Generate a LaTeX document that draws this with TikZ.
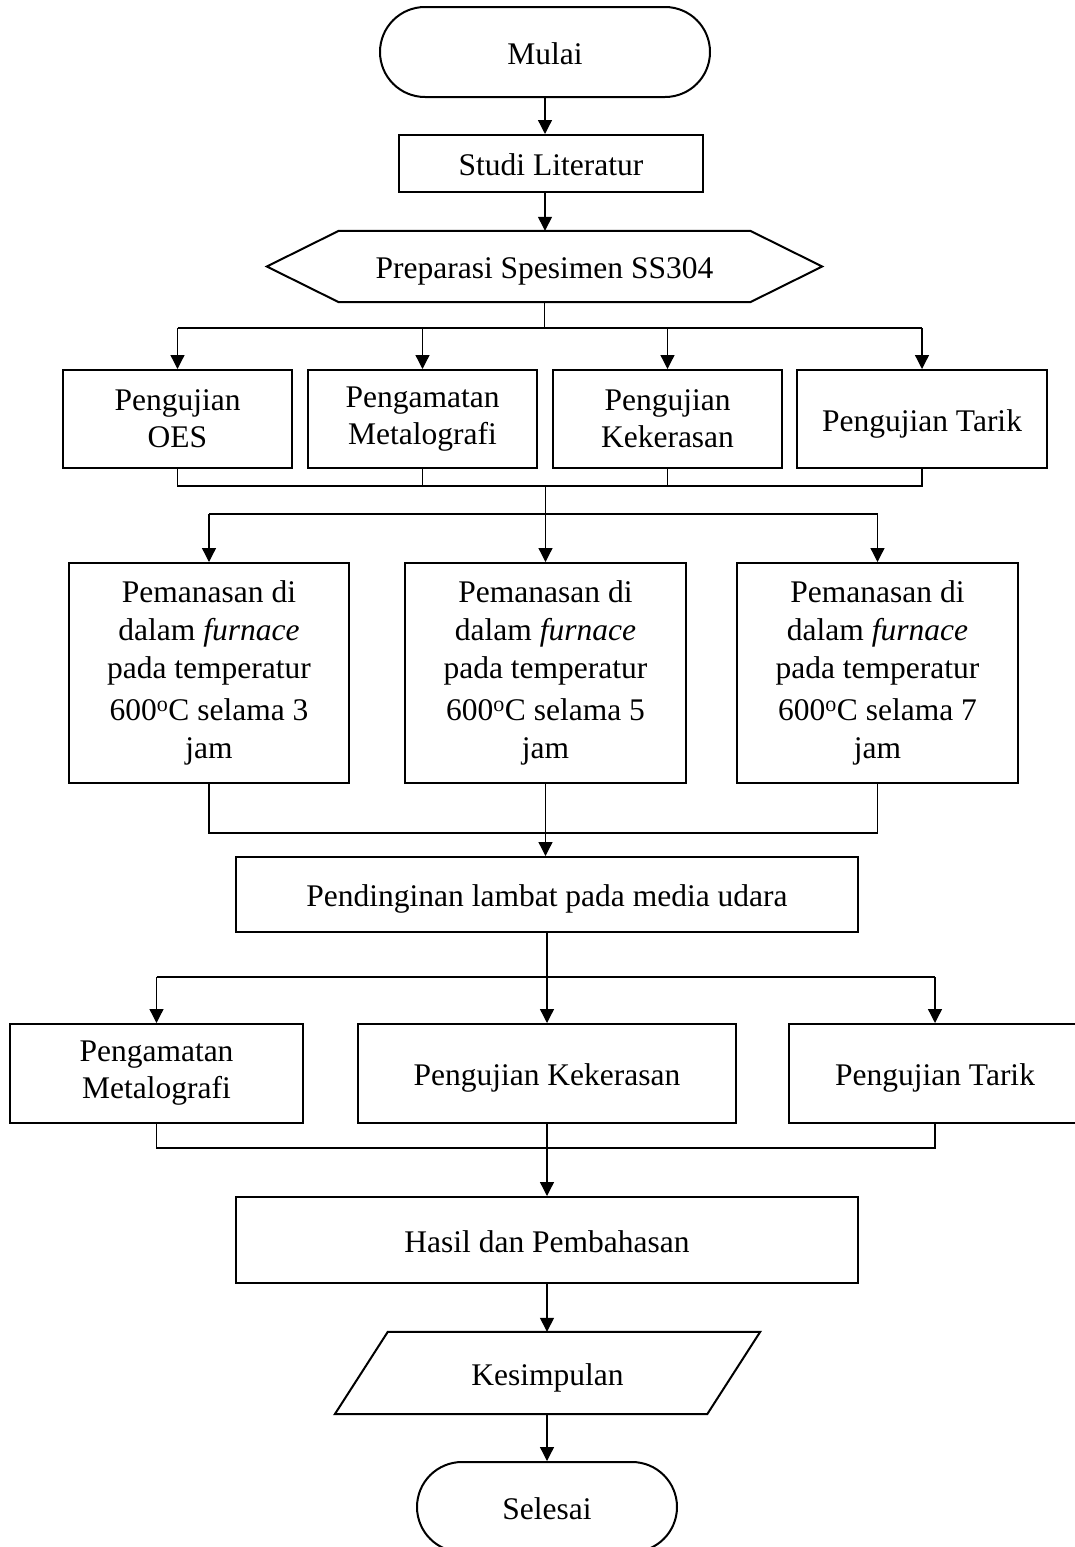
\documentclass[tikz,border=0pt]{standalone}
\usepackage{fontspec}
\setmainfont{Liberation Serif}
\usepackage{tikz}
\usetikzlibrary{shapes.geometric,arrows.meta}
\tikzstyle{startstop} = [rectangle, rounded corners=45pt, minimum width=330pt, minimum height=90pt, text centered, draw=black, line width=2pt]
\tikzstyle{process} = [rectangle, minimum width=229pt, minimum height=98pt, align=center, draw=black, line width=2pt]
\tikzstyle{heat} = [process, minimum width=281pt, minimum height=220pt, font=\fontsize{31.5}{38}\selectfont]
\tikzstyle{single} = [text height=24pt, text depth=0pt]
\tikzstyle{shapeonly} = [rectangle, align=center, draw=none]
\tikzstyle{box} = [draw=black, line width=2pt, line join=miter]
\tikzstyle{line} = [line width=1.3pt]
\tikzstyle{arrow} = [line width=1.3pt,-{Triangle[length=14pt,width=14pt]}]

\begin{document}
\begin{tikzpicture}[x=1pt,y=-1pt,font=\fontsize{31.5}{37}\selectfont]
\useasboundingbox (0,0) rectangle (1075,1547);

\node (mulai) [startstop, single] at (545,52) {Mulai};
\node (studi) [process, single, minimum width=304pt, minimum height=57pt] at (551,163.5) {Studi Literatur};
\node (prep) [shapeonly, single, minimum width=555pt, minimum height=71pt] at (544.5,266.5) {Preparasi Spesimen SS304};
\draw [box] (prep.west) -- ([xshift=72pt]prep.north west) -- ([xshift=-72pt]prep.north east) -- (prep.east) -- ([xshift=-72pt]prep.south east) -- ([xshift=72pt]prep.south west) -- cycle;

% pengujian awal
\node (oes) [process] at (177.5,419) {Pengujian\\OES};
\node (metal) [process] at (422.5,419) {Pengamatan\\Metalografi};
\node (keras) [process] at (667.5,419) {Pengujian\\Kekerasan};
\node (tarik) [process, single, minimum width=250pt] at (922,419) {Pengujian Tarik};

% pemanasan
\node (heat1) [heat, minimum width=280pt] at (209,673) {Pemanasan di\\dalam \textit{furnace}\\pada temperatur\\[4pt]600\textsuperscript{o}C selama 3\\jam};
\node (heat2) [heat] at (545.5,673) {Pemanasan di\\dalam \textit{furnace}\\pada temperatur\\[4pt]600\textsuperscript{o}C selama 5\\jam};
\node (heat3) [heat] at (877.5,673) {Pemanasan di\\dalam \textit{furnace}\\pada temperatur\\[4pt]600\textsuperscript{o}C selama 7\\jam};

\node (cool) [process, single, minimum width=622pt, minimum height=75pt] at (547,894.5) {Pendinginan lambat pada media udara};

% pengujian akhir
\node (metal2) [process, minimum width=293pt, minimum height=99pt] at (156.5,1073.5) {Pengamatan\\Metalografi};
\node (keras2) [process, single, minimum width=378pt, minimum height=99pt] at (547,1073.5) {Pengujian Kekerasan};
\node (tarik2) [process, single, minimum width=292pt, minimum height=99pt] at (935,1073.5) {Pengujian Tarik};

\node (hasil) [process, single, minimum width=622pt, minimum height=86pt] at (547,1240) {Hasil dan Pembahasan};
\node (kes) [shapeonly, single, minimum width=425pt, minimum height=82pt] at (547.5,1373) {Kesimpulan};
\draw [box] ([xshift=53pt]kes.north west) -- (kes.north east) -- ([xshift=-53pt]kes.south east) -- (kes.south west) -- cycle;
\node (selesai) [startstop, single, minimum width=260pt] at (547,1507) {Selesai};

% titik cabang
\coordinate (j1) at (544.5,328);
\coordinate (j2) at (545.5,486);
\coordinate (j3) at (545.5,514);
\coordinate (j4) at (545.5,833);
\coordinate (j5) at (547,977);
\coordinate (j6) at (547,1148);

\draw [arrow] (mulai.south) -- (mulai.south |- studi.north);
\draw [arrow] (mulai.south |- studi.south) -- (mulai.south |- prep.north);

\draw [line] (prep.south) -- (j1);
\draw [line] (oes.north |- j1) -- (tarik.north |- j1);
\foreach \n in {oes,metal,keras,tarik}
  \draw [arrow] (\n.north |- j1) -- (\n.north);

\draw [line] (oes.south) -- (oes.south |- j2) -- (tarik.south |- j2) -- (tarik.south);
\draw [line] (metal.south) -- (metal.south |- j2);
\draw [line] (keras.south) -- (keras.south |- j2);
\draw [arrow] (j2) -- (heat2.north);
\draw [line] (heat1.north |- j3) -- (heat3.north |- j3);
\draw [arrow] (heat1.north |- j3) -- (heat1.north);
\draw [arrow] (heat3.north |- j3) -- (heat3.north);

\draw [line] (heat1.south) -- (heat1.south |- j4) -- (heat3.south |- j4) -- (heat3.south);
\draw [arrow] (heat2.south) -- (heat2.south |- cool.north);

\draw [line] (cool.south) -- (j5);
\draw [line] (metal2.north |- j5) -- (tarik2.north |- j5);
\foreach \n in {metal2,keras2,tarik2}
  \draw [arrow] (\n.north |- j5) -- (\n.north);

\draw [line] (metal2.south) -- (metal2.south |- j6) -- (tarik2.south |- j6) -- (tarik2.south);
\draw [arrow] (keras2.south) -- (hasil.north);
\draw [arrow] (hasil.south) -- (hasil.south |- kes.north);
\draw [arrow] (hasil.south |- kes.south) -- (selesai.north);
\end{tikzpicture}
\end{document}
